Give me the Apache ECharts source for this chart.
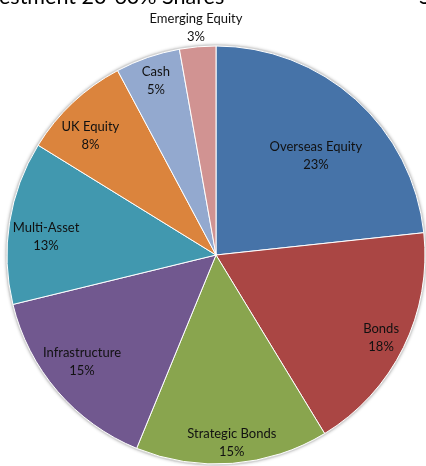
<!DOCTYPE html>
<html>
<head>
<meta charset="utf-8">
<script src="https://cdn.jsdelivr.net/npm/echarts@6/dist/echarts.min.js"></script>
<style>
html,body{margin:0;padding:0;background:#fff;}
#c{width:426px;height:466px;}
</style>
</head>
<body>
<div id="c"></div>
<script>
const categories = ['Overseas Equity', 'Bonds', 'Strategic Bonds', 'Infrastructure', 'Multi-Asset', 'UK Equity', 'Cash', 'Emerging Equity'];
const shares = [23.3, 18.0, 14.9, 15.0, 12.6, 8.4, 5.0, 2.8];
const colors = ['#4673A8', '#AA4644', '#89A54E', '#71588F', '#4198AF', '#DB843D', '#93A9CF', '#D19392'];
const titleText = 'estment 20-60% Shares';

// label placement: fraction of radius, and angular shift (degrees, clockwise) from slice mid-angle
const labelRadius = [0.673, 0.884, 0.903, 0.82, 0.818, 0.83, 0.88, 1.09];
const labelShift = [3.3, 0.4, -0.3, 2.1, -2.9, -3.2, 0, 0];
const CX = 216, CY = 255, R = 209;

const chart = echarts.init(document.getElementById('c'), null, {renderer: 'canvas'});
chart.setOption({
  animation: false,
  backgroundColor: '#ffffff',
  graphic: [
    {type: 'text', z: 10, style: {text: titleText, x: -1, y: -14, fill: '#000', font: '21.5px Lato'}},
    {type: 'text', z: 10, style: {text: 'S', x: 419, y: -14, fill: '#000', font: '21.5px Lato'}},
    {type: 'circle', z: -10, shape: {cx: CX, cy: CY, r: R + 1.5}, style: {fill: '#d4d4d4', shadowBlur: 3, shadowColor: 'rgba(0,0,0,0.25)'}}
  ],
  series: [{
    type: 'pie',
    center: [CX, CY],
    radius: [0, R],
    startAngle: 90,
    clockwise: true,
    avoidLabelOverlap: false,
    color: colors,
    itemStyle: {borderColor: '#ffffff', borderWidth: 1},
    label: {
      show: true,
      position: 'inside',
      fontFamily: 'Lato',
      fontSize: 13,
      lineHeight: 18,
      color: '#111111',
      formatter: p => p.name + '\n' + Math.round(p.percent) + '%'
    },
    labelLine: {show: false},
    emphasis: {disabled: true},
    labelLayout: function (params) {
      const i = params.dataIndex;
      const lr = params.labelRect;
      const x0 = lr.x + lr.width / 2, y0 = lr.y + lr.height / 2;
      const a = Math.atan2(x0 - CX, -(y0 - CY)) + labelShift[i] * Math.PI / 180;
      const k = labelRadius[i] * R;
      return {x: CX + Math.sin(a) * k, y: CY - Math.cos(a) * k, align: 'center', verticalAlign: 'middle'};
    },
    data: categories.map((n, i) => ({name: n, value: shares[i]}))
  }]
});
</script>
</body>
</html>
